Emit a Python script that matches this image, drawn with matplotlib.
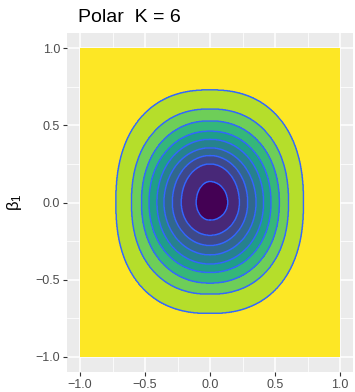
import matplotlib
matplotlib.use("Agg")
import matplotlib.pyplot as plt
import numpy as np

# contour extents, outer -> inner
left_ext = [0.724, 0.604, 0.527, 0.469, 0.408, 0.354, 0.290, 0.221, 0.106]
right_ext = [0.719, 0.604, 0.533, 0.469, 0.412, 0.354, 0.290, 0.226, 0.136]
top_ext = [0.731, 0.607, 0.530, 0.463, 0.410, 0.355, 0.305, 0.250, 0.136]
bottom_ext = [0.720, 0.595, 0.523, 0.454, 0.399, 0.340, 0.279, 0.213, 0.115]
shape_p = [2.35, 2.25, 2.15, 2.1, 2.05, 2.0, 2.0, 2.0, 2.0]

fill_colors = ["#FDE725", "#B5DE2B", "#6ECE58", "#35B779", "#1F9E89",
               "#26828E", "#31688E", "#3E4989", "#482878", "#440154"]
ticks = [-1.0, -0.5, 0.0, 0.5, 1.0]
tick_labels = ["\u22121.0", "\u22120.5", "0.0", "0.5", "1.0"]

plt.rcParams["font.family"] = ["Liberation Sans", "DejaVu Sans"]

g = np.linspace(-1, 1, 801)
X, Y = np.meshgrid(g, g)
Z = np.zeros_like(X)
for l, r, t, b, p in zip(left_ext, right_ext, top_ext, bottom_ext, shape_p):
    a = np.where(X < 0, l, r)
    c = np.where(Y < 0, b, t)
    d = (np.abs(X) / a) ** p + (np.abs(Y) / c) ** p
    Z += (d < 1).astype(float)

fig = plt.figure(figsize=(3.55, 3.92), dpi=100)
ax = fig.add_axes([67 / 355, 20 / 392, 286 / 355, 339 / 392])
ax.set_facecolor("#EBEBEB")
for s in ax.spines.values():
    s.set_visible(False)

lev = np.arange(-0.5, 10, 1.0)
ax.contourf(X, Y, Z, levels=lev, colors=fill_colors, zorder=2)
ax.contour(X, Y, Z, levels=lev[1:-1], colors="#3366FF", linewidths=1.0, zorder=3)

ax.set_xlim(-1.1, 1.1)
ax.set_ylim(-1.1, 1.1)
ax.set_xticks(ticks)
ax.set_xticklabels(tick_labels)
ax.set_yticks(ticks)
ax.set_yticklabels(tick_labels)
ax.set_xticks([-0.75, -0.25, 0.25, 0.75], minor=True)
ax.set_yticks([-0.75, -0.25, 0.25, 0.75], minor=True)
ax.grid(True, which="major", color="white", linewidth=1.1, zorder=1)
ax.grid(True, which="minor", color="white", linewidth=0.55, zorder=1)
ax.set_axisbelow(True)
ax.tick_params(which="major", length=3, width=0.8, color="#333333",
               labelcolor="#4D4D4D", labelsize=9, pad=2)
ax.tick_params(which="minor", length=0)

ax.set_ylabel("$\\mathregular{\\beta_1}$", fontsize=12, labelpad=8)
fig.text(78 / 355, 1 - 18 / 392, "Polar  K = 6", fontsize=14, va="center", ha="left")

fig.savefig("out.png", dpi=100)
